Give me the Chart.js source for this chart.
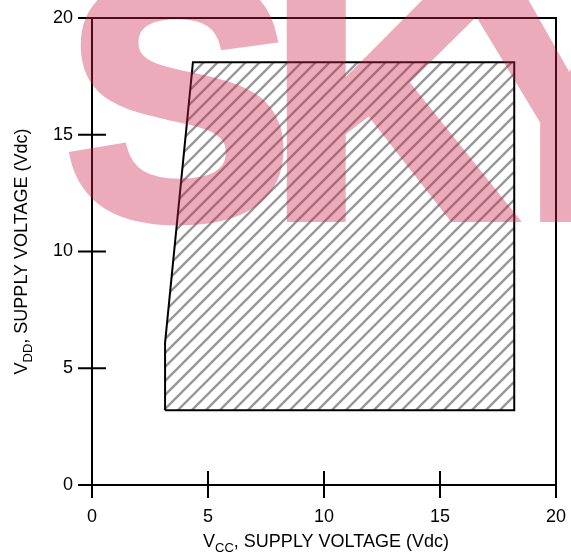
<!DOCTYPE html>
<html><head><meta charset="utf-8">
<script src="https://cdn.jsdelivr.net/npm/chart.js@4.4.0/dist/chart.umd.min.js"></script>
<style>html,body{margin:0;padding:0;background:#fff}#wrap{width:571px;height:552px;position:relative}</style>
</head><body><div id="wrap"><canvas id="c" width="571" height="552"></canvas></div>
<script>
// Operating region boundary (polygon vertices)
const vccValues = [3.15, 3.15, 4.35, 18.2, 18.2, 3.15];
const vddValues = [3.2, 6.1, 18.1, 18.1, 3.2, 3.2];
const xTicks = [0, 5, 10, 15, 20];
const yTicks = [0, 5, 10, 15, 20];
const xTitleParts = ["V", "CC", ", SUPPLY VOLTAGE (Vdc)"];
const yTitleParts = ["V", "DD", ", SUPPLY VOLTAGE (Vdc)"];
const watermarkLetters = ["S", "K", "Y"];

const FONT = "'Liberation Sans', Arial, sans-serif";

function hatchPattern() {
  const s = 14, c = document.createElement('canvas');
  c.width = s; c.height = s;
  const g = c.getContext('2d');
  g.strokeStyle = '#979797'; g.lineWidth = 2.3;
  g.beginPath();
  g.moveTo(-2, s + 2); g.lineTo(s + 2, -2);
  g.moveTo(-2, 2); g.lineTo(2, -2);
  g.moveTo(s - 2, s + 2); g.lineTo(s + 2, s - 2);
  g.stroke();
  return g.createPattern(c, 'repeat');
}

function drawParts(ctx, parts, x, y, big, small, subShift) {
  let cx = x;
  parts.forEach((t, i) => {
    const sub = i === 1;
    ctx.font = (sub ? small : big) + 'px ' + FONT;
    ctx.fillText(t, cx, y + (sub ? subShift : 0));
    cx += ctx.measureText(t).width;
  });
}
function measureParts(ctx, parts, big, small) {
  let w = 0;
  parts.forEach((t, i) => {
    ctx.font = (i === 1 ? small : big) + 'px ' + FONT;
    w += ctx.measureText(t).width;
  });
  return w;
}

const decor = {
  id: 'decor',
  afterDraw(chart) {
    const { ctx, chartArea: a, scales: { x, y } } = chart;
    ctx.save();
    ctx.strokeStyle = '#000'; ctx.lineWidth = 2;
    ctx.beginPath();
    ctx.rect(a.left, a.top, a.right - a.left, a.bottom - a.top);
    xTicks.forEach(v => {
      const px = x.getPixelForValue(v);
      const inner = (v > 0 && v < 20) ? 14 : 0;
      ctx.moveTo(px, a.bottom - inner); ctx.lineTo(px, a.bottom + 13);
    });
    yTicks.forEach(v => {
      const py = y.getPixelForValue(v);
      const inner = (v > 0 && v < 20) ? 14 : 0;
      ctx.moveTo(a.left - 14, py); ctx.lineTo(a.left + inner, py);
    });
    ctx.stroke();

    ctx.fillStyle = '#000'; ctx.textBaseline = 'alphabetic'; ctx.textAlign = 'left';
    const big = 18, small = 13;
    let w = measureParts(ctx, xTitleParts, big, small);
    drawParts(ctx, xTitleParts, (a.left + a.right) / 2 - w / 2 + 2, 547, big, small, 5);
    ctx.save();
    ctx.translate(27, (a.top + a.bottom) / 2);
    ctx.rotate(-Math.PI / 2);
    w = measureParts(ctx, yTitleParts, big, small);
    drawParts(ctx, yTitleParts, -w / 2, 0, big, small, 5);
    ctx.restore();

    // watermark: letters drawn opaque off-screen, then composited once with transparency
    const off = document.createElement('canvas');
    off.width = chart.width; off.height = chart.height;
    const o = off.getContext('2d');
    o.fillStyle = 'rgb(205,35,75)';
    o.strokeStyle = 'rgb(205,35,75)';
    o.lineWidth = 10; o.lineJoin = 'miter';
    o.font = 'bold 340px ' + FONT;
    const xs = [65, 269, 456];
    watermarkLetters.forEach((L, i) => { o.fillText(L, xs[i], 217); o.strokeText(L, xs[i], 217); });
    ctx.globalAlpha = 0.38;
    ctx.drawImage(off, 0, 0);
    ctx.restore();
  }
};

function zeroPad(s) { s.paddingTop = 0; s.paddingBottom = 0; s.paddingLeft = 0; s.paddingRight = 0; }

new Chart(document.getElementById('c'), {
  type: 'scatter',
  data: {
    datasets: [{
      data: vccValues.map((v, i) => ({ x: v, y: vddValues[i] })),
      showLine: true,
      fill: 'shape',
      backgroundColor: hatchPattern(),
      borderColor: '#000',
      borderWidth: 2,
      pointRadius: 0,
      tension: 0
    }]
  },
  options: {
    responsive: false,
    animation: false,
    devicePixelRatio: 1,
    layout: { padding: { top: 18, right: 15, left: 0, bottom: 0 } },
    plugins: { legend: { display: false }, tooltip: { enabled: false } },
    scales: {
      x: {
        type: 'linear', min: 0, max: 20,
        afterBuildTicks: s => { s.ticks = xTicks.map(v => ({ value: v })); },
        grid: { display: false }, border: { display: false },
        ticks: { color: '#000', font: { family: FONT, size: 18 }, padding: 13, maxRotation: 0 },
        afterFit: s => { s.height = 67; zeroPad(s); }
      },
      y: {
        type: 'linear', min: 0, max: 20,
        afterBuildTicks: s => { s.ticks = yTicks.map(v => ({ value: v })); },
        grid: { display: false }, border: { display: false },
        ticks: { color: '#000', font: { family: FONT, size: 18 }, padding: 11 },
        afterFit: s => { s.width = 92; zeroPad(s); }
      }
    }
  },
  plugins: [decor]
});
</script>
</body></html>
